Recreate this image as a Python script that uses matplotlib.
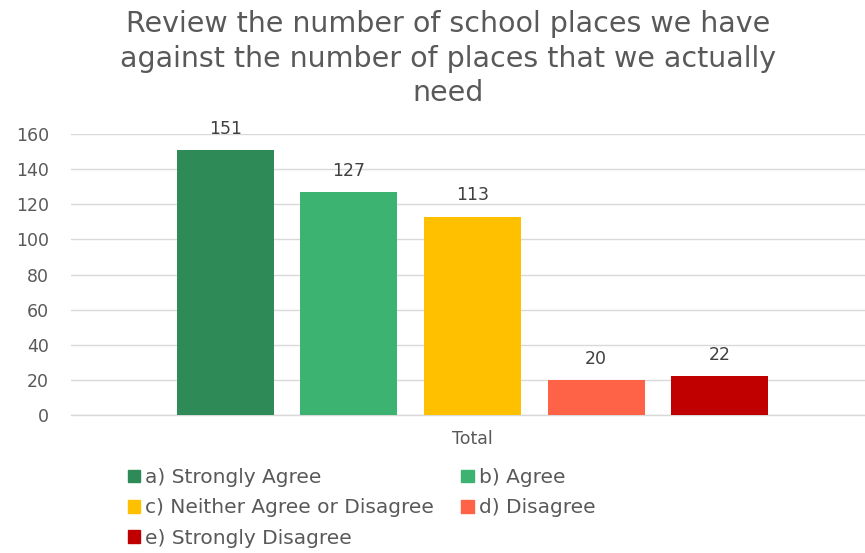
import matplotlib
matplotlib.use("Agg")
import matplotlib.pyplot as plt
from matplotlib.patches import Patch

categories = ["Total"]
series = ["a) Strongly Agree", "b) Agree", "c) Neither Agree or Disagree", "d) Disagree", "e) Strongly Disagree"]
values = [151, 127, 113, 20, 22]
colors = ["#2E8B57", "#3CB371", "#FFC000", "#FF6347", "#C00000"]
yticks = [0, 20, 40, 60, 80, 100, 120, 140, 160]
title = "Review the number of school places we have\nagainst the number of places that we actually\nneed"

fig = plt.figure(figsize=(8.65, 5.53), dpi=100)
ax = fig.add_axes([71/865, 0.2495, 803/865, 0.5082])

n = len(series)
positions = [i - (n - 1) / 2 for i in range(n)]
for pos, v, c, s in zip(positions, values, colors, series):
    ax.bar(pos, v, width=0.785, color=c, label=s, zorder=3)
    ax.text(pos, v + 7, str(v), ha="center", va="bottom", fontsize=12.5,
            color="#404040", family="DejaVu Sans")

ax.set_xlim(-3.25, 3.25)
ax.set_ylim(0, 160)
ax.set_yticks(yticks)
ax.set_yticklabels([str(t) for t in yticks], fontsize=12.5, color="#595959", family="DejaVu Sans")
ax.set_xticks([0])
ax.set_xticklabels(categories, fontsize=12.5, color="#595959", family="DejaVu Sans")
ax.tick_params(axis="both", length=0)
ax.tick_params(axis="y", pad=16)
ax.tick_params(axis="x", pad=11)
ax.grid(axis="y", color="#D9D9D9", linewidth=1, zorder=0)
ax.axhline(0, color="#D9D9D9", linewidth=1, zorder=1, clip_on=False)
for sp in ax.spines.values():
    sp.set_visible(False)

fig.text(0.518, 0.982, title, ha="center", va="top", fontsize=20.5, color="#595959",
         family="DejaVu Sans", linespacing=1.3)

handles = [Patch(color=c) for c in colors]
order = [0, 2, 4, 1, 3]
leg = fig.legend([handles[i] for i in order], [series[i] for i in order],
                 ncol=2, loc="upper left", bbox_to_anchor=(0.139, 0.168),
                 frameon=False, prop={"family": "DejaVu Sans", "size": 14.5},
                 handlelength=0.6, handleheight=0.6, handletextpad=0.25,
                 columnspacing=1.35, labelspacing=0.56, borderaxespad=0)
for t in leg.get_texts():
    t.set_color("#595959")

fig.savefig("out.png", dpi=100)
